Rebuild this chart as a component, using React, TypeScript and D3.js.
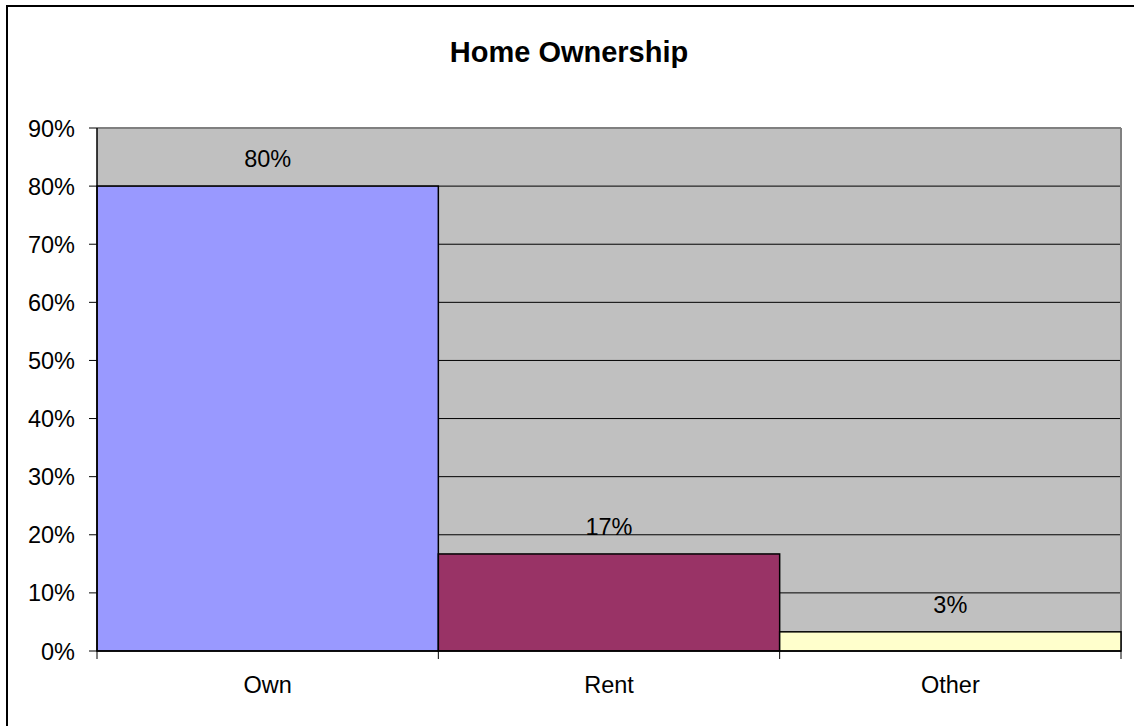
import React from "react";
import * as d3 from "d3";

const categories = ["Own", "Rent", "Other"];
const values = [0.8, 0.167, 0.033];
const valueLabels = ["80%", "17%", "3%"];
const barColors = ["#9999FF", "#993366", "#FFFFCC"];
const yTicks = [0, 0.1, 0.2, 0.3, 0.4, 0.5, 0.6, 0.7, 0.8, 0.9];
const title = "Home Ownership";

export default function App() {
  const W = 1134, H = 726;
  const left = 97, right = 1121, top = 128, bottom = 651;
  const x = d3.scaleBand<string>().domain(categories).range([left, right]).padding(0);
  const y = d3.scaleLinear().domain([0, 0.9]).range([bottom, top]);
  const fmt = d3.format(".0%");
  const font = "Arial, 'Liberation Sans', sans-serif";
  return (
    <svg width={W} height={H} style={{ position: "absolute", left: 0, top: 0 }} fontFamily={font}>
      <rect x={0} y={0} width={W} height={H} fill="#fff" />
      <rect x={7} y={6} width={W + 20} height={H + 20} fill="none" stroke="#000" strokeWidth={2} />
      <text x={569} y={62} textAnchor="middle" fontSize={29} fontWeight="bold" fill="#000">{title}</text>
      <rect x={left} y={top} width={right - left} height={bottom - top} fill="#C0C0C0" />
      {yTicks.filter(t => t > 0 && t < 0.9).map(t => (
        <line key={t} x1={left} x2={right} y1={y(t)} y2={y(t)} stroke="#000" strokeWidth={1} />
      ))}
      <line x1={left} x2={right} y1={top} y2={top} stroke="#808080" strokeWidth={2} />
      <line x1={right} x2={right} y1={top} y2={bottom} stroke="#808080" strokeWidth={2} />
      {categories.map((c, i) => (
        <rect key={c} x={x(c)!} y={y(values[i])} width={x.bandwidth()} height={bottom - y(values[i])}
          fill={barColors[i]} stroke="#000" strokeWidth={1.5} />
      ))}
      {categories.map((c, i) => (
        <text key={c} x={x(c)! + x.bandwidth() / 2} y={y(values[i]) - 19} textAnchor="middle" fontSize={23.5} fill="#000">{valueLabels[i]}</text>
      ))}
      <line x1={left} x2={left} y1={top} y2={bottom} stroke="#000" strokeWidth={1.5} />
      <line x1={left} x2={right} y1={bottom} y2={bottom} stroke="#000" strokeWidth={1.5} />
      {yTicks.map(t => (
        <g key={t}>
          <line x1={left - 8} x2={left} y1={y(t)} y2={y(t)} stroke="#000" strokeWidth={1} />
          <text x={75} y={y(t) + 8.5} textAnchor="end" fontSize={23.5} fill="#000">{fmt(t)}</text>
        </g>
      ))}
      {[...categories.map(c => x(c)!), right].map((px, i) => (
        <line key={i} x1={px} x2={px} y1={bottom} y2={bottom + 8} stroke="#000" strokeWidth={1} />
      ))}
      {categories.map(c => (
        <text key={c} x={x(c)! + x.bandwidth() / 2} y={693} textAnchor="middle" fontSize={23.5} fill="#000">{c}</text>
      ))}
    </svg>
  );
}
